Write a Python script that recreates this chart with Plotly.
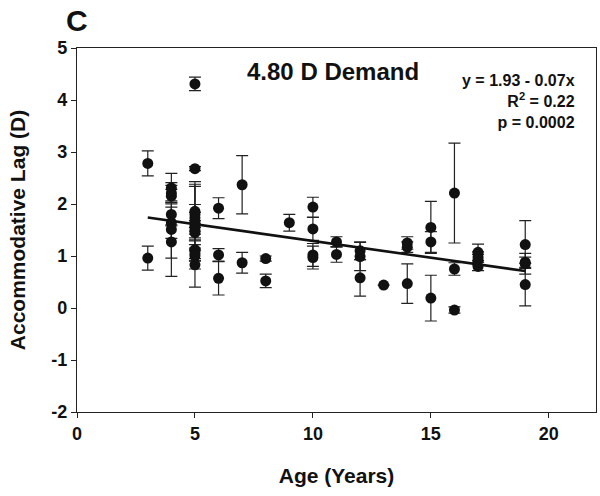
import plotly.graph_objects as go

# Data
ages = [3, 3,
        4, 4, 4, 4, 4, 4, 4,
        5, 5, 5, 5, 5, 5, 5, 5, 5, 5, 5, 5, 5,
        6, 6, 6,
        7, 7,
        8, 8,
        9,
        10, 10, 10, 10,
        11, 11,
        12, 12, 12,
        13,
        14, 14, 14,
        15, 15, 15,
        16, 16, 16,
        17, 17, 17, 17,
        19, 19, 19, 19]
lag = [2.78, 0.96,
       2.31, 2.21, 2.15, 1.80, 1.64, 1.51, 1.27,
       4.31, 2.68, 1.86, 1.80, 1.73, 1.65, 1.58, 1.52, 1.45, 1.12, 1.05, 1.00, 0.83,
       1.92, 1.02, 0.57,
       2.37, 0.87,
       0.95, 0.52,
       1.64,
       1.94, 1.52, 1.02, 0.97,
       1.27, 1.03,
       1.10, 0.99, 0.58,
       0.44,
       1.25, 1.17, 0.47,
       1.55, 1.27, 0.19,
       2.21, 0.75, -0.04,
       1.07, 0.98, 0.93, 0.80,
       1.22, 0.88, 0.85, 0.45]
lag_err = [0.24, 0.23,
           0.28, 0.15, 0.13, 0.20, 0.30, 0.90, 0.31,
           0.13, 0.04, 0.57, 0.58, 0.61, 0.34, 0.10, 0.10, 0.10, 0.72, 0.10, 0.10, 0.08,
           0.20, 0.12, 0.32,
           0.56, 0.20,
           0.05, 0.13,
           0.16,
           0.19, 0.22, 0.22, 0.22,
           0.10, 0.15,
           0.17, 0.27, 0.35,
           0.0,
           0.12, 0.10, 0.38,
           0.50, 0.20, 0.44,
           0.96, 0.12, 0.06,
           0.16, 0.10, 0.10, 0.08,
           0.46, 0.10, 0.20, 0.41]

fit_x = [3, 19]
fit_y = [1.74, 0.71]

x_ticks = [0, 5, 10, 15, 20]
y_ticks = [-2, -1, 0, 1, 2, 3, 4, 5]

FONT = "Liberation Sans, Arial, Helvetica, sans-serif"
INK = "#111111"

W, H = 600, 496
ML, MR, MT, MB = 77, 4, 48, 84

fig = go.Figure()
fig.add_trace(go.Scatter(
    x=ages, y=lag, mode="markers",
    marker=dict(size=11, color=INK),
    error_y=dict(type="data", array=lag_err, visible=True,
                 color="#222222", thickness=1.2, width=6),
    showlegend=False, hoverinfo="skip"))
fig.add_trace(go.Scatter(
    x=fit_x, y=fit_y, mode="lines",
    line=dict(color=INK, width=2.6),
    showlegend=False, hoverinfo="skip"))

plot_w = W - ML - MR
plot_h = H - MT - MB


def px(xp):
    return (xp - ML) / plot_w


def py(yp):
    return 1 - (yp - MT) / plot_h


fig.update_layout(
    width=W, height=H,
    margin=dict(l=ML, r=MR, t=MT, b=MB),
    paper_bgcolor="white", plot_bgcolor="white",
    font=dict(family=FONT, color=INK),
    xaxis=dict(range=[0, 22], tickvals=x_ticks,
               ticktext=[f"<b>{v}</b>" for v in x_ticks],
               tickfont=dict(size=18, family=FONT, color=INK),
               showgrid=False, zeroline=False,
               showline=True, linecolor="#222222", linewidth=1.3, mirror=True,
               ticks="outside", ticklen=5, tickwidth=1.2, tickcolor="#222222",
               title=dict(text="<b>Age (Years)</b>", font=dict(size=21, family=FONT, color=INK),
                          standoff=25)),
    yaxis=dict(range=[-2, 5], tickvals=y_ticks,
               ticktext=[f"<b>{v}</b>" for v in y_ticks],
               tickfont=dict(size=18, family=FONT, color=INK),
               showgrid=False, zeroline=False,
               showline=True, linecolor="#222222", linewidth=1.3, mirror=True,
               ticks="outside", ticklen=5, tickwidth=1.2, tickcolor="#222222",
               title=dict(text="<b>Accommodative Lag (D)</b>", font=dict(size=21, family=FONT, color=INK),
                          standoff=19)),
    annotations=[
        dict(text="<b>C</b>", x=px(77), y=py(20), xref="paper", yref="paper",
             xanchor="center", yanchor="middle",
             showarrow=False, font=dict(size=30, family=FONT, color=INK)),
        dict(text="<b>4.80 D Demand</b>", x=px(333), y=py(71), xref="paper", yref="paper",
             xanchor="center", yanchor="middle",
             showarrow=False, font=dict(size=24, family=FONT, color=INK)),
        dict(text="<b>y = 1.93 - 0.07x<br>R<sup>2</sup> = 0.22<br>p = 0.0002</b>",
             x=px(577), y=py(101), xref="paper", yref="paper", xanchor="right", yanchor="middle",
             align="right", showarrow=False, font=dict(size=16, family=FONT, color=INK)),
    ],
)

# remove the default page margin so the 600x496 figure fills the window exactly
fig.write_html("out.html",
               config={"displayModeBar": False},
               post_script="document.body.style.margin='0';document.body.style.overflow='hidden';")
